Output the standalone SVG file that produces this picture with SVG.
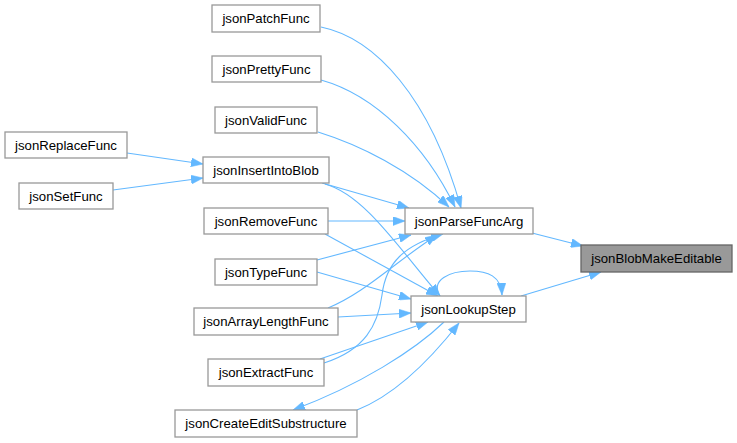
<svg xmlns="http://www.w3.org/2000/svg" width="737" height="443" viewBox="0 0 737 443">
<style>
.n rect{fill:#fff;stroke:#999;stroke-width:1.3}
.n.hl rect{fill:#999;stroke:#666}
.n text{font-family:"Liberation Sans",Arial,sans-serif;font-size:13.2px;fill:#000;text-anchor:middle}
.e path{fill:none;stroke:#63b8ff;stroke-width:1.1;marker-end:url(#ah)}
</style>
<defs>
<marker id="ah" viewBox="0 0 12 9" refX="12" refY="4.5" markerWidth="12" markerHeight="9" markerUnits="userSpaceOnUse" orient="auto">
<path d="M0,0 L12,4.5 L0,9 z" fill="#63b8ff" stroke="#63b8ff" stroke-width="0.5"/>
</marker>
</defs>
<rect width="737" height="443" fill="#fff"/>
<g id="edges" class="e">
<path d="M532,233 L583,246"/>
<path d="M521,296 L601,272"/>
<path d="M440,296 C430,280 450,271 470,271 C488,271 501,276 502,295"/>
<path d="M321,27 C375,38 430,97 461,208"/>
<path d="M321,80 C375,95 425,145 455,207"/>
<path d="M318,132 C360,145 410,170 449,207"/>
<path d="M322,183 L409,208"/>
<path d="M325,184 C365,195 400,250 440,296"/>
<path d="M328,221 L405,221"/>
<path d="M325,234 L438,296"/>
<path d="M317,260 L411,235"/>
<path d="M317,272 L411,299"/>
<path d="M328,308 C365,293 395,262 437,235"/>
<path d="M338,317 L411,313"/>
<path d="M324,363 C365,350 378,325 382,295 C386,262 405,245 443,234"/>
<path d="M320,359 L428,322"/>
<path d="M444,322 C415,350 360,385 293,410"/>
<path d="M357,410 C395,395 430,360 459,323"/>
<path d="M127,153 L203,164"/>
<path d="M113,190 L203,178"/>
</g>
<g id="jsonBlobMakeEditable" class="n hl"><rect x="581" y="245" width="151" height="27"/><text x="656.5" y="263.3">jsonBlobMakeEditable</text></g>
<g id="jsonParseFuncArg" class="n"><rect x="405" y="208" width="128" height="26"/><text x="469" y="225.7">jsonParseFuncArg</text></g>
<g id="jsonLookupStep" class="n"><rect x="411" y="296" width="115" height="26"/><text x="468.5" y="313.7">jsonLookupStep</text></g>
<g id="jsonPatchFunc" class="n"><rect x="212" y="5" width="108" height="27"/><text x="266" y="23.3">jsonPatchFunc</text></g>
<g id="jsonPrettyFunc" class="n"><rect x="212" y="56" width="109" height="26"/><text x="266.5" y="73.7">jsonPrettyFunc</text></g>
<g id="jsonValidFunc" class="n"><rect x="215" y="107" width="102" height="26"/><text x="266" y="124.7">jsonValidFunc</text></g>
<g id="jsonInsertIntoBlob" class="n"><rect x="203" y="157" width="126" height="26"/><text x="266" y="174.7">jsonInsertIntoBlob</text></g>
<g id="jsonReplaceFunc" class="n"><rect x="5" y="132" width="122" height="26"/><text x="66" y="149.7">jsonReplaceFunc</text></g>
<g id="jsonSetFunc" class="n"><rect x="19" y="183" width="94" height="26"/><text x="66" y="200.7">jsonSetFunc</text></g>
<g id="jsonRemoveFunc" class="n"><rect x="204" y="208" width="124" height="26"/><text x="266" y="225.7">jsonRemoveFunc</text></g>
<g id="jsonTypeFunc" class="n"><rect x="215" y="259" width="102" height="26"/><text x="266" y="276.7">jsonTypeFunc</text></g>
<g id="jsonArrayLengthFunc" class="n"><rect x="194" y="308" width="144" height="27"/><text x="266" y="326.3">jsonArrayLengthFunc</text></g>
<g id="jsonExtractFunc" class="n"><rect x="208" y="359" width="116" height="27"/><text x="266" y="377.3">jsonExtractFunc</text></g>
<g id="jsonCreateEditSubstructure" class="n"><rect x="175" y="410" width="182" height="27"/><text x="266" y="428.3">jsonCreateEditSubstructure</text></g>
</svg>
